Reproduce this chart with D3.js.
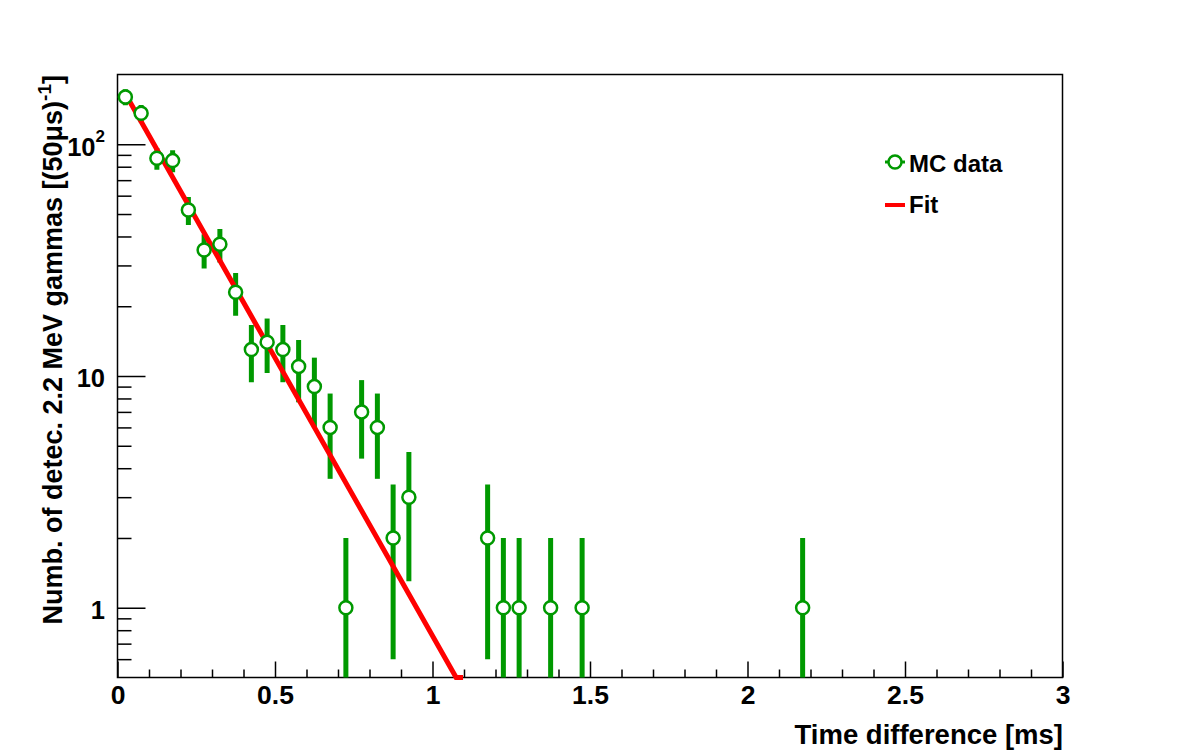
<!DOCTYPE html>
<html>
<head>
<meta charset="utf-8">
<script src="https://cdn.jsdelivr.net/npm/d3@7"></script>
<style>
  html, body { margin: 0; padding: 0; background: #fff; }
  svg { display: block; font-family: "Liberation Sans", Arial, Helvetica, sans-serif; font-weight: bold; }
</style>
</head>
<body>
<svg id="chart" width="1182" height="755"></svg>
<script>
// ---- data ----
const binCenters = [0.025, 0.075, 0.125, 0.175, 0.225, 0.275, 0.325, 0.375, 0.425, 0.475,
                    0.525, 0.575, 0.625, 0.675, 0.725, 0.775, 0.825, 0.875, 0.925,
                    1.175, 1.225, 1.275, 1.375, 1.475, 2.175];
const counts     = [160, 136, 87, 85, 52, 35, 37, 23, 13, 14,
                    13, 11, 9, 6, 1, 7, 6, 2, 3,
                    2, 1, 1, 1, 1, 1];
const countErrors = [12.6, 11.7, 9.3, 9.2, 7.2, 5.9, 6.1, 4.8, 3.6, 3.7,
                     3.6, 3.3, 3.0, 2.4, 1.0, 2.6, 2.4, 1.4, 1.7,
                     1.4, 1.0, 1.0, 1.0, 1.0, 1.0];
// exponential fit: a straight line on the log axis, read at its ends
const fitX = [0.024, 1.075, 1.097];
const fitY = [166, 0.5, 0.5];

const xMajorTicks = [0, 0.5, 1, 1.5, 2, 2.5, 3];
const xTickLabels = ["0", "0.5", "1", "1.5", "2", "2.5", "3"];
const yMajorTicks = [1, 10, 100];
const yTickLabels = [["1", ""], ["10", ""], ["10", "2"]];
const xDomain = [0, 3];
const yDomain = [0.5, 200];

const xTitle = "Time difference [ms]";
const yTitleMain = "Numb. of detec. 2.2 MeV gammas [(50\u03bcs)";
const yTitleSup = "-1";
const yTitleEnd = "]";
const legendLabels = ["MC data", "Fit"];

// ---- layout ----
const frame = { left: 117.5, right: 1062.5, top: 74.5, bottom: 677.5 };
const GREEN = "#009900", RED = "#ff0000";

const svg = d3.select("#chart");
const x = d3.scaleLinear().domain(xDomain).range([frame.left, frame.right]);
const y = d3.scaleLog().domain(yDomain).range([frame.bottom, frame.top]);

svg.append("defs").append("clipPath").attr("id", "clip")
  .append("rect")
  .attr("x", frame.left).attr("y", frame.top)
  .attr("width", frame.right - frame.left).attr("height", frame.bottom - frame.top);

// x minor ticks
const xMinor = d3.range(0, 31).map(i => i / 10).filter(v => !xMajorTicks.some(m => Math.abs(m - v) < 1e-9));
svg.append("g").attr("transform", `translate(0,${frame.bottom})`)
  .call(d3.axisBottom(x).tickValues(xMinor).tickSize(-8).tickFormat(""))
  .call(g => g.select(".domain").remove())
  .call(g => g.selectAll("line").attr("stroke", "#000").attr("stroke-width", 1.5));
// x major ticks
svg.append("g").attr("transform", `translate(0,${frame.bottom})`)
  .call(d3.axisBottom(x).tickValues(xMajorTicks).tickSize(-16).tickPadding(8)
        .tickFormat((d, i) => xTickLabels[i]))
  .call(g => g.select(".domain").remove())
  .call(g => g.selectAll("line").attr("stroke", "#000").attr("stroke-width", 1.5))
  .call(g => g.selectAll("text").attr("font-size", 26.5).attr("font-weight", "bold")
        .attr("font-family", "Liberation Sans, Arial, sans-serif").attr("fill", "#000"));

// y minor ticks
const yMinor = y.ticks().filter(v => !yMajorTicks.includes(v) && v > yDomain[0] && v < yDomain[1]);
svg.append("g").attr("transform", `translate(${frame.left},0)`)
  .call(d3.axisLeft(y).tickValues(yMinor).tickSize(-14).tickFormat(""))
  .call(g => g.select(".domain").remove())
  .call(g => g.selectAll("line").attr("stroke", "#000").attr("stroke-width", 1.5));
// y major ticks
svg.append("g").attr("transform", `translate(${frame.left},0)`)
  .call(d3.axisLeft(y).tickValues(yMajorTicks).tickSize(-28).tickFormat(""))
  .call(g => g.select(".domain").remove())
  .call(g => g.selectAll("line").attr("stroke", "#000").attr("stroke-width", 1.5));
// y tick labels
const yl = svg.append("g").selectAll("text").data(yMajorTicks).join("text")
  .attr("x", 105).attr("y", d => y(d)).attr("dy", "0.45em")
  .attr("text-anchor", "end").attr("font-size", 25.5).attr("fill", "#000");
yl.append("tspan").text((d, i) => yTickLabels[i][0]);
yl.append("tspan").attr("font-size", 17).attr("dy", "-0.8em").text((d, i) => yTickLabels[i][1]);

// frame
svg.append("rect")
  .attr("x", frame.left).attr("y", frame.top)
  .attr("width", frame.right - frame.left).attr("height", frame.bottom - frame.top)
  .attr("fill", "none").attr("stroke", "#000").attr("stroke-width", 1.5);

// data: error bars
const data = binCenters.map((c, i) => ({ x: c, n: counts[i], e: countErrors[i] }));
const plot = svg.append("g").attr("clip-path", "url(#clip)");
plot.selectAll("line.err").data(data).join("line").attr("class", "err")
  .attr("x1", d => x(d.x)).attr("x2", d => x(d.x))
  .attr("y1", d => y(Math.max(d.n - d.e, 0.3)))
  .attr("y2", d => y(d.n + d.e))
  .attr("stroke", GREEN).attr("stroke-width", 5);

// fit line
svg.append("path")
  .datum(fitX.map((v, i) => [v, fitY[i]]))
  .attr("d", d3.line().x(d => x(d[0])).y(d => y(d[1])))
  .attr("fill", "none").attr("stroke", RED).attr("stroke-width", 5);

// markers
svg.append("g").selectAll("circle").data(data).join("circle")
  .attr("cx", d => x(d.x)).attr("cy", d => y(d.n)).attr("r", 6.5)
  .attr("fill", "#fff").attr("stroke", GREEN).attr("stroke-width", 2.5);

// legend
const lg = svg.append("g");
lg.append("line").attr("x1", 885).attr("x2", 905).attr("y1", 162).attr("y2", 162)
  .attr("stroke", GREEN).attr("stroke-width", 3);
lg.append("circle").attr("cx", 895).attr("cy", 162).attr("r", 6.5)
  .attr("fill", "#fff").attr("stroke", GREEN).attr("stroke-width", 2.5);
lg.append("line").attr("x1", 885).attr("x2", 905).attr("y1", 205).attr("y2", 205)
  .attr("stroke", RED).attr("stroke-width", 4);
lg.selectAll("text").data(legendLabels).join("text")
  .attr("x", 909).attr("y", (d, i) => 172 + i * 41)
  .attr("font-size", 24).attr("fill", "#000").text(d => d);

// axis titles
svg.append("text").attr("x", 1063).attr("y", 744).attr("text-anchor", "end")
  .attr("font-size", 27.5).attr("fill", "#000").text(xTitle);

const yt = svg.append("text")
  .attr("transform", "translate(62,75) rotate(-90)")
  .attr("text-anchor", "end").attr("font-size", 27).attr("fill", "#000");
yt.append("tspan").text(yTitleMain);
yt.append("tspan").attr("font-size", 19).attr("dy", "-0.6em").text(yTitleSup);
yt.append("tspan").attr("dy", "0.42em").text(yTitleEnd);
</script>
</body>
</html>
